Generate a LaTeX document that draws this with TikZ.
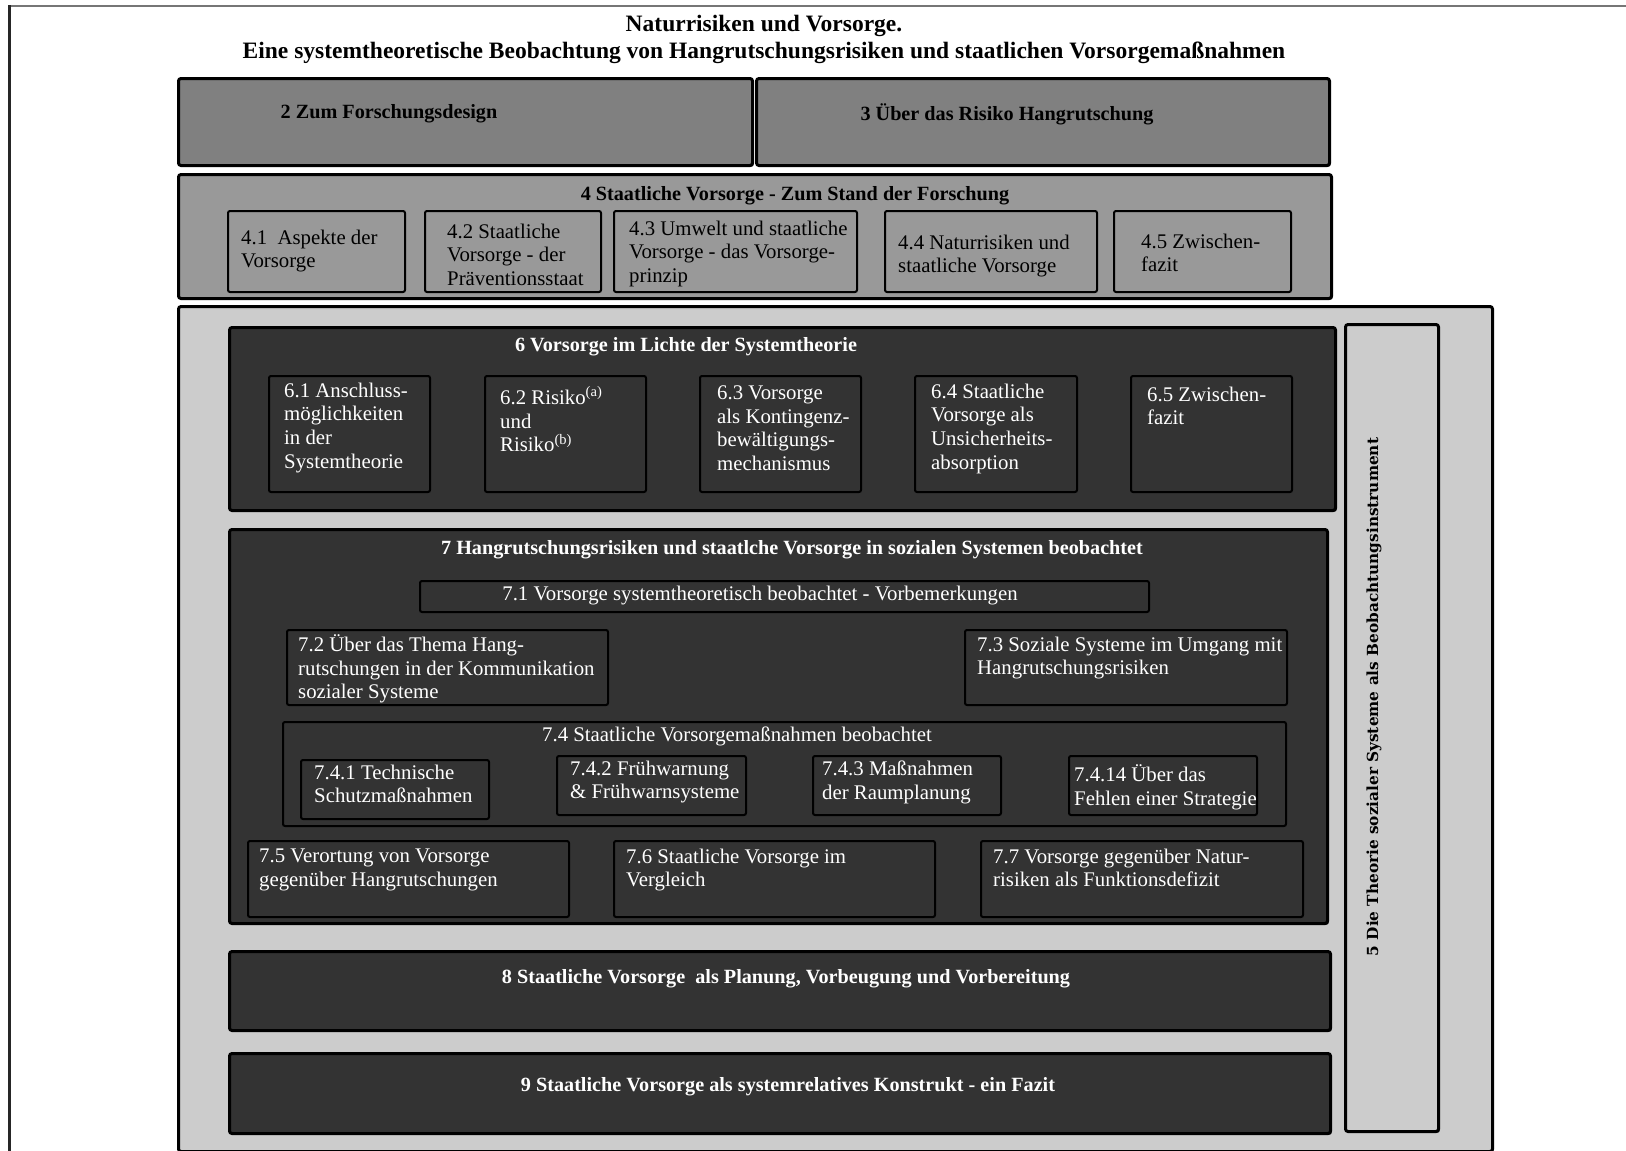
\documentclass[tikz,border=0pt]{standalone}
\usepackage{fontspec}
\setmainfont{Liberation Serif}
\newfontfamily\vertfont{DejaVu Serif}
\usetikzlibrary{shadows}

\definecolor{gmid}{HTML}{808080}
\definecolor{glight}{HTML}{999999}
\definecolor{gpale}{HTML}{CCCCCC}
\definecolor{gdark}{HTML}{333333}
\definecolor{frameg}{HTML}{767676}

\newcommand\regf{\fontsize{20.8}{23.7}\selectfont}
\newcommand\boldf{\fontsize{20.2}{23.7}\selectfont\bfseries}
\newcommand\headf{\fontsize{23.5}{27}\selectfont\bfseries}

\tikzset{
  frame/.style={anchor=north west, inner sep=0pt, rounded corners=2.5pt,
    line width=3pt, draw=black,
    drop shadow={shadow xshift=1.2pt, shadow yshift=-1.2pt, opacity=1, fill=black}},
  midbox/.style={frame, fill=gmid},
  lightbox/.style={frame, fill=glight},
  palebox/.style={frame, fill=gpale},
  darkbox/.style={frame, fill=gdark},
  subbox/.style={anchor=north west, inner sep=0pt, rounded corners=2pt,
    line width=2pt, draw=black},
  subgray/.style={subbox, fill=glight},
  subdark/.style={subbox, fill=gdark},
  txt/.style={anchor=north west, inner sep=0pt, align=left, font=\regf,
    yshift=-2.5pt, execute at begin node=\strut},
  wtxt/.style={txt, text=white},
  btitle/.style={anchor=north, inner sep=0pt, font=\boldf,
    execute at begin node=\strut},
  wbtitle/.style={btitle, text=white},
  wtitle/.style={anchor=north, inner sep=0pt, font=\regf, text=white,
    execute at begin node=\strut},
}

\begin{document}
\begin{tikzpicture}[x=1pt, y=-1pt]
\useasboundingbox (0,0) rectangle (1626,1151);

% page frame: top and left rules
\coordinate (fc) at (9.5,6);
\coordinate (fr) at (1626,6);
\coordinate (fb) at (9.5,1151);
\draw[frameg, line width=1.6pt] (fc) -- (fr);
\draw[black!85, line width=2.2pt] ([yshift=0.8pt]fc) -- (fb);

% heading
\node[anchor=north, inner sep=0pt, align=center, font=\headf,
      execute at begin node=\strut] (head) at (764,15)
  {Naturrisiken und Vorsorge.\\
   Eine systemtheoretische Beobachtung von Hangrutschungsrisiken und staatlichen Vorsorgemaßnahmen};

% chapters 2 and 3
\node[midbox, minimum width=574, minimum height=87] (b2) at (177,77) {};
\node[midbox, minimum width=573, minimum height=87] (b3) at (755,77) {};
\node[btitle] (t2) at (389,102) {2 Zum Forschungsdesign};
\node[btitle] (t3) at (1007,103) {3 Über das Risiko Hangrutschung};

% chapter 4
\node[lightbox, minimum width=1153, minimum height=124] (b4) at (177,173) {};
\node[btitle] (t4) at (795,184) {4 Staatliche Vorsorge - Zum Stand der Forschung};
\node[subgray, minimum width=177, minimum height=81] (s41) at (227,210) {};
\node[subgray, minimum width=176, minimum height=81] (s42) at (424,210) {};
\node[subgray, minimum width=243, minimum height=81] (s43) at (613,210) {};
\node[subgray, minimum width=212, minimum height=81] (s44) at (884,210) {};
\node[subgray, minimum width=177, minimum height=81] (s45) at (1113,210) {};
\node[txt] (t41) at (241,227) {4.1~ Aspekte der\\Vorsorge};
\node[txt] (t42) at (447,221) {4.2 Staatliche\\Vorsorge - der\\Präventionsstaat};
\node[txt] (t43) at (629,218) {4.3 Umwelt und staatliche\\Vorsorge - das Vorsorge-\\prinzip};
\node[txt] (t44) at (898,232) {4.4 Naturrisiken und\\staatliche Vorsorge};
\node[txt] (t45) at (1141,231) {4.5 Zwischen-\\fazit};

% chapter 5: frame around chapters 6 to 9
\node[palebox, minimum width=1314, minimum height=845] (b5) at (177,305) {};
\node[palebox, minimum width=93, minimum height=807] (b5v) at (1344,323) {};
\node[rotate=90, inner sep=0pt, font=\vertfont\bfseries\fontsize{15.3}{18}\selectfont]
  (t5) at (1374,697) {5 Die Theorie sozialer Systeme als Beobachtungsinstrument};

% chapter 6
\node[darkbox, minimum width=1106, minimum height=183] (b6) at (228,326) {};
\node[wbtitle] (t6) at (686,335) {6 Vorsorge im Lichte der Systemtheorie};
\node[subdark, minimum width=161, minimum height=116] (s61) at (268,375) {};
\node[subdark, minimum width=161, minimum height=116] (s62) at (484,375) {};
\node[subdark, minimum width=161, minimum height=116] (s63) at (699,375) {};
\node[subdark, minimum width=162, minimum height=116] (s64) at (914,375) {};
\node[subdark, minimum width=161, minimum height=116] (s65) at (1130,375) {};
\node[wtxt] (t61) at (284,380) {6.1 Anschluss-\\möglichkeiten\\in der\\Systemtheorie};
\node[wtxt] (t62) at (500,384) {6.2 Risiko\textsuperscript{(a)}\\und\\Risiko\textsuperscript{(b)}};
\node[wtxt] (t63) at (717,383) {6.3 Vorsorge\\als Kontingenz-\\bewältigungs-\\mechanismus};
\node[wtxt] (t64) at (931,381) {6.4 Staatliche\\Vorsorge als\\Unsicherheits-\\absorption};
\node[wtxt] (t65) at (1147,384) {6.5 Zwischen-\\fazit};

% chapter 7
\node[darkbox, minimum width=1098, minimum height=394] (b7) at (228,528) {};
\node[wbtitle] (t7) at (792,538) {7 Hangrutschungsrisiken und staatlche Vorsorge in sozialen Systemen beobachtet};
\node[subdark, minimum width=729, minimum height=31] (s71) at (419,580) {};
\node[wtitle] (t71) at (760,584) {7.1 Vorsorge systemtheoretisch beobachtet - Vorbemerkungen};
\node[subdark, minimum width=321, minimum height=75] (s72) at (286,629) {};
\node[subdark, minimum width=322, minimum height=75] (s73) at (964,629) {};
\node[wtxt] (t72) at (298,632) {7.2 Über das Thema Hang-\\rutschungen in der Kommunikation\\sozialer Systeme};
\node[wtxt] (t73) at (977,634) {7.3 Soziale Systeme im Umgang mit\\Hangrutschungsrisiken};
\node[subdark, minimum width=1003, minimum height=104] (s74) at (282,721) {};
\node[wtitle] (t74) at (737,725) {7.4 Staatliche Vorsorgemaßnahmen beobachtet};
\node[subdark, minimum width=188, minimum height=59] (s741) at (300,759) {};
\node[subdark, minimum width=189, minimum height=59] (s742) at (556,755) {};
\node[subdark, minimum width=188, minimum height=59] (s743) at (812,755) {};
\node[subdark, minimum width=188, minimum height=59] (s7414) at (1068,755) {};
\node[wtxt] (t741) at (314,762) {7.4.1 Technische\\Schutzmaßnahmen};
\node[wtxt] (t742) at (570,758) {7.4.2 Frühwarnung\\\& Frühwarnsysteme};
\node[wtxt] (t743) at (822,758) {7.4.3 Maßnahmen\\der Raumplanung};
\node[wtxt] (t7414) at (1074,762) {7.4.14 Über das\\Fehlen einer Strategie};
\node[subdark, minimum width=321, minimum height=76] (s75) at (247,840) {};
\node[subdark, minimum width=321, minimum height=76] (s76) at (613,840) {};
\node[subdark, minimum width=322, minimum height=76] (s77) at (980,840) {};
\node[wtxt] (t75) at (259,846) {7.5 Verortung von Vorsorge\\gegenüber Hangrutschungen};
\node[wtxt] (t76) at (626,846) {7.6 Staatliche Vorsorge im\\Vergleich};
\node[wtxt] (t77) at (993,846) {7.7 Vorsorge gegenüber Natur-\\risiken als Funktionsdefizit};

% chapters 8 and 9
\node[darkbox, minimum width=1101, minimum height=79] (b8) at (228,950) {};
\node[wbtitle] (t8) at (786,967) {8 Staatliche Vorsorge~ als Planung, Vorbeugung und Vorbereitung};
\node[darkbox, minimum width=1101, minimum height=80] (b9) at (228,1052) {};
\node[wbtitle] (t9) at (788,1075) {9 Staatliche Vorsorge als systemrelatives Konstrukt - ein Fazit};
\end{tikzpicture}
\end{document}
